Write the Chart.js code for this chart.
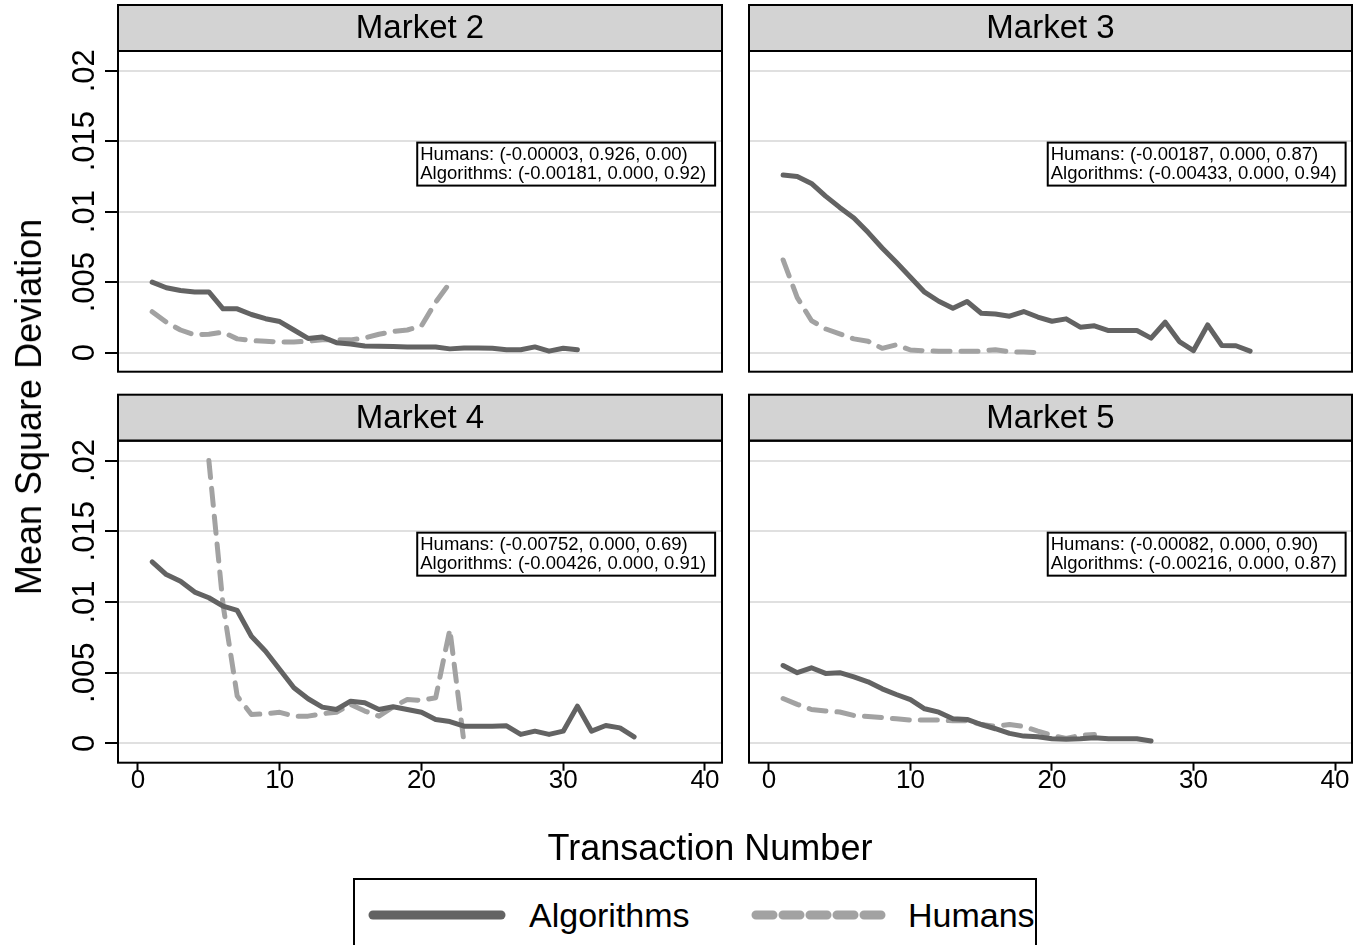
<!DOCTYPE html>
<html>
<head>
<meta charset="utf-8">
<script src="https://cdn.jsdelivr.net/npm/chart.js@4.4.1/dist/chart.umd.min.js"></script>
<style>
  html, body { margin: 0; padding: 0; background: #fff; }
  body { width: 1354px; height: 945px; position: relative; overflow: hidden;
         font-family: 'Liberation Sans', Arial, sans-serif; color: #000; }
  canvas.panel { position: absolute; }
  #ytitle { position: absolute; left: 29px; top: 407px; font-size: 36px; white-space: nowrap;
            transform: translate(-50%, -50%) rotate(-90deg); }
  #xtitle { position: absolute; left: 710px; top: 848px; font-size: 36px; white-space: nowrap;
            transform: translate(-50%, -50%); }
  #legend { position: absolute; left: 353px; top: 878px; width: 684px; height: 80px;
            border: 2px solid #000; box-sizing: border-box; background: #fff; }
  #legend svg { position: absolute; left: 0; top: 0; }
  #legend span { position: absolute; top: 35px; font-size: 34px; line-height: 1;
                 transform: translateY(-50%); white-space: nowrap; }
</style>
</head>
<body>
<canvas id="m2" class="panel"></canvas>
<canvas id="m3" class="panel"></canvas>
<canvas id="m4" class="panel"></canvas>
<canvas id="m5" class="panel"></canvas>
<div id="ytitle">Mean Square Deviation</div>
<div id="xtitle">Transaction Number</div>
<div id="legend">
  <svg width="684" height="80">
    <line x1="18" y1="35" x2="146" y2="35" stroke="#636363" stroke-width="9" stroke-linecap="round"/>
    <line x1="401" y1="35" x2="529" y2="35" stroke="#a2a2a2" stroke-width="9" stroke-linecap="round" stroke-dasharray="17 10"/>
  </svg>
  <span style="left:174px">Algorithms</span>
  <span style="left:553px">Humans</span>
</div>
<script>
// Tick values and labels shared by all four markets
const xTicks = [0, 10, 20, 30, 40];
const yTicks = [0, 0.005, 0.01, 0.015, 0.02];
const yTickLabels = ['0', '.005', '.01', '.015', '.02'];

// Mean square deviation by transaction number (first entry = transaction 1)
const m2Algorithms = [0.0050, 0.0046, 0.0044, 0.0043, 0.0043, 0.0031, 0.0031, 0.0027, 0.0024, 0.0022,
                      0.0016, 0.0010, 0.0011, 0.0007, 0.0006, 0.00047, 0.00045, 0.00043, 0.0004, 0.0004,
                      0.0004, 0.00026, 0.00033, 0.00033, 0.0003, 0.0002, 0.0002, 0.0004, 0.0001, 0.0003, 0.0002];
const m2Humans = [0.0029, 0.00215, 0.0016, 0.00125, 0.0013, 0.00144, 0.00097, 0.00085, 0.0008, 0.00075,
                  0.00075, 0.0008, 0.0009, 0.0009, 0.0009, 0.00104, 0.0013, 0.00149, 0.0016, 0.0019,
                  0.00357, 0.00494];

const m3Algorithms = [0.0126, 0.0125, 0.0120, 0.0111, 0.0103, 0.00955, 0.00853, 0.00742, 0.0064, 0.00534,
                      0.00428, 0.00364, 0.00314, 0.00362, 0.00279, 0.00274, 0.00258, 0.00291, 0.00252, 0.00222,
                      0.00239, 0.0018, 0.0019, 0.00156, 0.00156, 0.00156, 0.00102, 0.00215, 0.00078, 0.00014,
                      0.00196, 0.0005, 0.00048, 0.0001];
const m3Humans = [0.00657, 0.0039, 0.00227, 0.00168, 0.00132, 0.00097, 0.0008, 0.0003, 0.00055, 0.00018,
                  0.00012, 0.0001, 0.0001, 0.0001, 0.0001, 0.0002, 0.00005, 0.00003, 0.0];

const m4Algorithms = [0.01284, 0.01194, 0.01147, 0.0107, 0.0103, 0.0097, 0.0094, 0.00758, 0.00652, 0.00523,
                      0.00394, 0.00316, 0.00257, 0.0024, 0.00299, 0.00288, 0.0024, 0.00259, 0.0024, 0.00221,
                      0.0017, 0.00155, 0.00122, 0.00122, 0.00122, 0.00125, 0.00064, 0.00087, 0.00064, 0.00087,
                      0.00264, 0.00087, 0.00127, 0.0011, 0.00047];
const m4Humans = [null, null, null, null, 0.0200, 0.0098, 0.00335, 0.00205, 0.0021, 0.0022,
                  0.00193, 0.00193, 0.0021, 0.0022, 0.00276, 0.00229, 0.00193, 0.00259, 0.00311, 0.00304,
                  0.00323, 0.00806, 0.00005];

const m5Algorithms = [0.00551, 0.0050, 0.00535, 0.00495, 0.0050, 0.0047, 0.00436, 0.00386, 0.00346, 0.0031,
                      0.00245, 0.00221, 0.00174, 0.0017, 0.00134, 0.00104, 0.00071, 0.00052, 0.00047, 0.00033,
                      0.0003, 0.00033, 0.0004, 0.00033, 0.00033, 0.00033, 0.00017];
const m5Humans = [0.00318, 0.00276, 0.0024, 0.00229, 0.00222, 0.00198, 0.0019, 0.00183, 0.00174, 0.00165,
                  0.00165, 0.00165, 0.0016, 0.0016, 0.00134, 0.00122, 0.00134, 0.0012, 0.00087, 0.00057,
                  0.00035, 0.00057, 0.00064];

// Regression summaries printed in each panel
const m2Notes = ['Humans: (-0.00003, 0.926, 0.00)', 'Algorithms: (-0.00181, 0.000, 0.92)'];
const m3Notes = ['Humans: (-0.00187, 0.000, 0.87)', 'Algorithms: (-0.00433, 0.000, 0.94)'];
const m4Notes = ['Humans: (-0.00752, 0.000, 0.69)', 'Algorithms: (-0.00426, 0.000, 0.91)'];
const m5Notes = ['Humans: (-0.00082, 0.000, 0.90)', 'Algorithms: (-0.00216, 0.000, 0.87)'];

const FONT = "'Liberation Sans', Arial, sans-serif";
const noteAnchor = { x: 19.7, y: 0.0149 };
const HEADER_H = 46;

const toPoints = vals => vals.map((v, i) => ({ x: i + 1, y: v }));

// Header strip, frame, note box and rotated y labels drawn on top of each panel
const panelDecor = {
  id: 'panelDecor',
  afterDatasetsDraw(chart, args, opts) {
    const { ctx, chartArea: a } = chart;
    const xs = chart.scales.x, ys = chart.scales.y;
    ctx.save();
    // header
    ctx.fillStyle = '#d3d3d3';
    ctx.fillRect(a.left, a.top - HEADER_H, a.right - a.left, HEADER_H);
    ctx.lineWidth = 2;
    ctx.strokeStyle = '#000';
    ctx.strokeRect(a.left, a.top - HEADER_H, a.right - a.left, HEADER_H);
    ctx.fillStyle = '#000';
    ctx.font = '33px ' + FONT;
    ctx.textAlign = 'center';
    ctx.textBaseline = 'middle';
    ctx.fillText(opts.title, (a.left + a.right) / 2, a.top - HEADER_H / 2 + 1);
    // plot frame
    ctx.strokeRect(a.left, a.top, a.right - a.left, a.bottom - a.top);
    // note box
    ctx.font = '18.5px ' + FONT;
    const bx = xs.getPixelForValue(noteAnchor.x);
    const by = ys.getPixelForValue(noteAnchor.y);
    const w = Math.max(...opts.notes.map(t => ctx.measureText(t).width)) + 12;
    ctx.fillStyle = '#fff';
    ctx.fillRect(bx, by, w, 43);
    ctx.strokeRect(bx, by, w, 43);
    ctx.fillStyle = '#000';
    ctx.textAlign = 'left';
    opts.notes.forEach((t, i) => ctx.fillText(t, bx + 3, by + 12 + i * 19));
    // rotated y tick labels
    if (opts.yLabels) {
      ctx.font = '31px ' + FONT;
      ctx.textAlign = 'center';
      yTicks.forEach((v, i) => {
        ctx.save();
        ctx.translate(84, ys.getPixelForValue(v));
        ctx.rotate(-Math.PI / 2);
        ctx.fillText(yTickLabels[i], 0, 1);
        ctx.restore();
      });
    }
    ctx.restore();
  }
};

function makePanel(id, cfg) {
  const el = document.getElementById(id);
  el.width = cfg.w; el.height = cfg.h;
  el.style.width = cfg.w + 'px'; el.style.height = cfg.h + 'px';
  el.style.left = cfg.left + 'px'; el.style.top = cfg.top + 'px';
  return new Chart(el, {
    type: 'line',
    data: {
      datasets: [
        { label: 'Algorithms', data: toPoints(cfg.alg), borderColor: '#636363', borderWidth: 5,
          pointRadius: 0, borderJoinStyle: 'round', borderCapStyle: 'round', tension: 0 },
        { label: 'Humans', data: toPoints(cfg.hum), borderColor: '#a2a2a2', borderWidth: 5,
          borderDash: [17, 11], pointRadius: 0, borderJoinStyle: 'round', borderCapStyle: 'round',
          tension: 0, spanGaps: false }
      ]
    },
    options: {
      responsive: false, animation: false, devicePixelRatio: 1,
      layout: { padding: cfg.pad },
      plugins: { legend: { display: false }, tooltip: { enabled: false },
                 panelDecor: { title: cfg.title, notes: cfg.notes, yLabels: cfg.yLabels } },
      scales: {
        x: {
          type: 'linear', min: -1.41, max: 41.2, display: cfg.xAxis,
          afterBuildTicks: s => { s.ticks = xTicks.map(v => ({ value: v })); },
          afterFit: s => { if (cfg.xAxis) s.height = 60; },
          grid: { drawOnChartArea: false, drawTicks: true, tickLength: 8, tickColor: '#000', tickWidth: 2 },
          border: { display: false },
          ticks: { color: '#000', font: { family: FONT, size: 26, lineHeight: 0.75 }, padding: 0, maxRotation: 0 }
        },
        y: {
          type: 'linear', min: -0.00136, max: 0.02140,
          afterBuildTicks: s => { s.ticks = yTicks.map(v => ({ value: v })); },
          afterFit: s => { s.width = cfg.yLabels ? 118 : 0; },
          grid: { color: '#e0e0e0', lineWidth: 2, drawTicks: cfg.yLabels, tickLength: 13,
                  tickColor: '#000', tickWidth: 2 },
          border: { display: false },
          ticks: { display: false }
        }
      }
    },
    plugins: [panelDecor]
  });
}

makePanel('m2', { title: 'Market 2', alg: m2Algorithms, hum: m2Humans, notes: m2Notes,
  left: 0, top: 0, w: 735, h: 390, yLabels: true, xAxis: false,
  pad: { left: 0, right: 13, top: 51, bottom: 18.3 } });
makePanel('m3', { title: 'Market 3', alg: m3Algorithms, hum: m3Humans, notes: m3Notes,
  left: 735, top: 0, w: 640, h: 390, yLabels: false, xAxis: false,
  pad: { left: 14, right: 23, top: 51, bottom: 18.3 } });
makePanel('m4', { title: 'Market 4', alg: m4Algorithms, hum: m4Humans, notes: m4Notes,
  left: 0, top: 390, w: 735, h: 450, yLabels: true, xAxis: true,
  pad: { left: 0, right: 13, top: 50.7, bottom: 17.3 } });
makePanel('m5', { title: 'Market 5', alg: m5Algorithms, hum: m5Humans, notes: m5Notes,
  left: 735, top: 390, w: 640, h: 450, yLabels: false, xAxis: true,
  pad: { left: 14, right: 23, top: 50.7, bottom: 17.3 } });
</script>
</body>
</html>
